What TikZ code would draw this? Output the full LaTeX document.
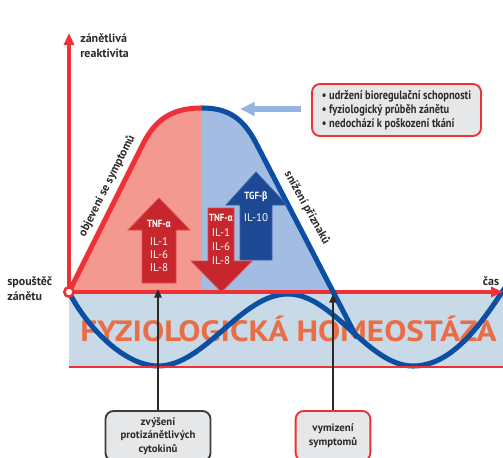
\documentclass[tikz,border=0pt]{standalone}
\usepackage{fontspec}
\setmainfont{PT Sans}
\newfontfamily\condfont[FakeStretch=0.85]{PT Sans}
\newfontfamily\grk[FakeStretch=0.85]{Fira Sans}
\usetikzlibrary{arrows.meta}
\newcommand\myfs[2]{\fontsize{#1}{#2}\selectfont}
\definecolor{axred}{HTML}{EE3136}
\definecolor{salmon}{HTML}{F4998F}
\definecolor{lblue}{HTML}{A3BCE1}
\definecolor{bandcol}{HTML}{C8DAE8}
\definecolor{wavecol}{HTML}{0B4EA2}
\definecolor{orangetxt}{HTML}{EB6D45}
\definecolor{arrred}{HTML}{C7262D}
\definecolor{arrredlt}{HTML}{DE4A4C}
\definecolor{arrblue}{HTML}{1D4994}
\definecolor{arrbluelt}{HTML}{3A64AA}
\definecolor{hintblue}{HTML}{94B4E1}
\definecolor{boxgray}{HTML}{E6E7E8}
\definecolor{txtdark}{HTML}{2B2A29}
\definecolor{boxborder}{HTML}{3C3C3B}
\tikzset{
  darklabel/.style={text=txtdark, font=\bfseries\myfs{9}{11.3}, inner sep=0pt},
  arrtext/.style={text=white, font=\myfs{8.3}{10}, inner sep=0pt},
  arrhead/.style={text=white, font=\condfont\bfseries\myfs{7.8}{9}, inner sep=0pt},
  bellline/.style={line width=3.8pt, line cap=butt, line join=round},
  axisline/.style={axred, line width=3pt, -{Triangle[length=9pt,width=7.5pt]}},
  infobox/.style={draw=axred, fill=boxgray, rounded corners=6pt, line width=1.4pt,
    minimum width=126.75pt, minimum height=39pt, align=left,
    font=\condfont\bfseries\myfs{9.2}{10.5}, text=txtdark},
  bottombox/.style={fill=boxgray, rounded corners=6pt, line width=1.4pt,
    minimum height=37.5pt, align=center, font=\bfseries\myfs{8.1}{10.3}, text=txtdark, anchor=center},
  pointer/.style={draw=txtdark, line width=1.5pt, -{Triangle[length=6.5pt,width=5.5pt]}}
}
\begin{document}
\begin{tikzpicture}[x=0.75pt,y=-0.75pt]
\useasboundingbox (0,0) rectangle (503,457);
\clip (0,0) rectangle (503,457);
% homeostasis band
\fill[bandcol] (69,292) rectangle (503,367);
\node[text=orangetxt, font=\bfseries\myfs{22}{22}, anchor=base, inner sep=0pt] (homeo) at (288.5,341) {\scalebox{1.13}[1]{FYZIOLOGICKÁ HOMEOSTÁZA}};
% wave
\draw[wavecol, line width=3.8pt] (69,292) .. controls (86,326) and (124,366) .. (158,366)
  .. controls (205,366) and (241,294) .. (288,294)
  .. controls (333,294) and (368,366) .. (413,366)
  .. controls (455,366) and (485,318) .. (510,280);
% bell fills
\fill[salmon] (69,292) -- (143,144) .. controls (157,116) and (176,108) .. (202,108) -- (202,292) -- cycle;
\fill[lblue] (202,108) .. controls (228,108) and (243,118) .. (256,143) -- (333,292) -- (202,292) -- cycle;
% axes
\draw[axred, line width=1.9pt] (69,367) -- (503,367);
\draw[axisline] (69,292) -- (69,33);
\draw[axisline] (69,292) -- (503,292);
% bell lines
\draw[axred, bellline] (69,292) -- (143,144) .. controls (157,116) and (176,108) .. (202,108);
\draw[wavecol, bellline] (202,108) .. controls (228,108) and (243,118) .. (256,143) -- (357,338);
% origin
\node[circle, draw=axred, fill=white, line width=2pt, minimum size=7pt, inner sep=0pt] (origin) at (69,292) {};
% block arrows
\filldraw[fill=arrred, draw=arrredlt, line width=0.6pt] (159,198) -- (190,230) -- (176,230) -- (176,283) -- (142,283) -- (142,230) -- (128,230) -- cycle;
\filldraw[fill=arrblue, draw=arrbluelt, line width=0.6pt] (256,172) -- (287,205) -- (272,205) -- (272,260) -- (240,260) -- (240,205) -- (226,205) -- cycle;
\filldraw[fill=arrred, draw=arrredlt, line width=0.6pt] (208,208) -- (234,208) -- (234,261) -- (252,261) -- (221.5,292) -- (191,261) -- (208,261) -- cycle;
\node[arrhead] (t1) at (159,224) {TNF-{\grk\bfseries α}};
\node[arrtext] (a1) at (159,242) {IL-1};
\node[arrtext] (a2) at (159,255) {IL-6};
\node[arrtext] (a3) at (159,268) {IL-8};
\node[arrhead] (t2) at (221,218) {TNF-{\grk\bfseries α}};
\node[arrtext] (b1) at (221,233) {IL-1};
\node[arrtext] (b2) at (221,247) {IL-6};
\node[arrtext] (b3) at (221,261) {IL-8};
\node[arrhead] (t3) at (256,197) {TGF-{\grk\bfseries β}};
\node[arrtext] (c1) at (256,218) {IL-10};
% labels
\node[darklabel, anchor=north west, align=left] (ylab) at (80,33) {zánětlivá\\reaktivita};
\node[darklabel, anchor=north west, align=left] (trig) at (7,276) {spouštěč\\zánětu};
\node[darklabel] (xlab) at (491,281) {čas};
\node[darklabel, rotate=63.4, font=\bfseries\myfs{8.8}{9}] (up) at (107,186) {objevení se symptomů};
\node[darklabel, rotate=-61, font=\bfseries\myfs{8.8}{9}] (down) at (307,208) {snížení příznaků};
% info box and hint arrow
\node[infobox] (info) at (396.5,110) {\textbullet\ udržení bioregulační schopnosti\\\textbullet\ fyziologický průběh zánětu\\\textbullet\ nedochází k poškození tkání};
\coordinate (peak) at (240,109);
\draw[hintblue, line width=3.8pt, -{Triangle[length=11pt,width=10pt]}] ([xshift=-7.5pt,yshift=0.75pt]info.west) -- (peak);
% bottom boxes
\node[bottombox, draw=boxborder, minimum width=78.75pt] (cyto) at (158,436) {zvýšení\\protizánětlivých\\cytokinů};
\node[bottombox, draw=axred, minimum width=56pt] (vym) at (333,436) {vymizení\\symptomů};
\coordinate (cytotip) at (158,289);
\coordinate (vymtip) at (333,294);
\draw[pointer] (cyto.north) -- (cytotip);
\draw[pointer] (vym.north) -- (vymtip);
\end{tikzpicture}
\end{document}
